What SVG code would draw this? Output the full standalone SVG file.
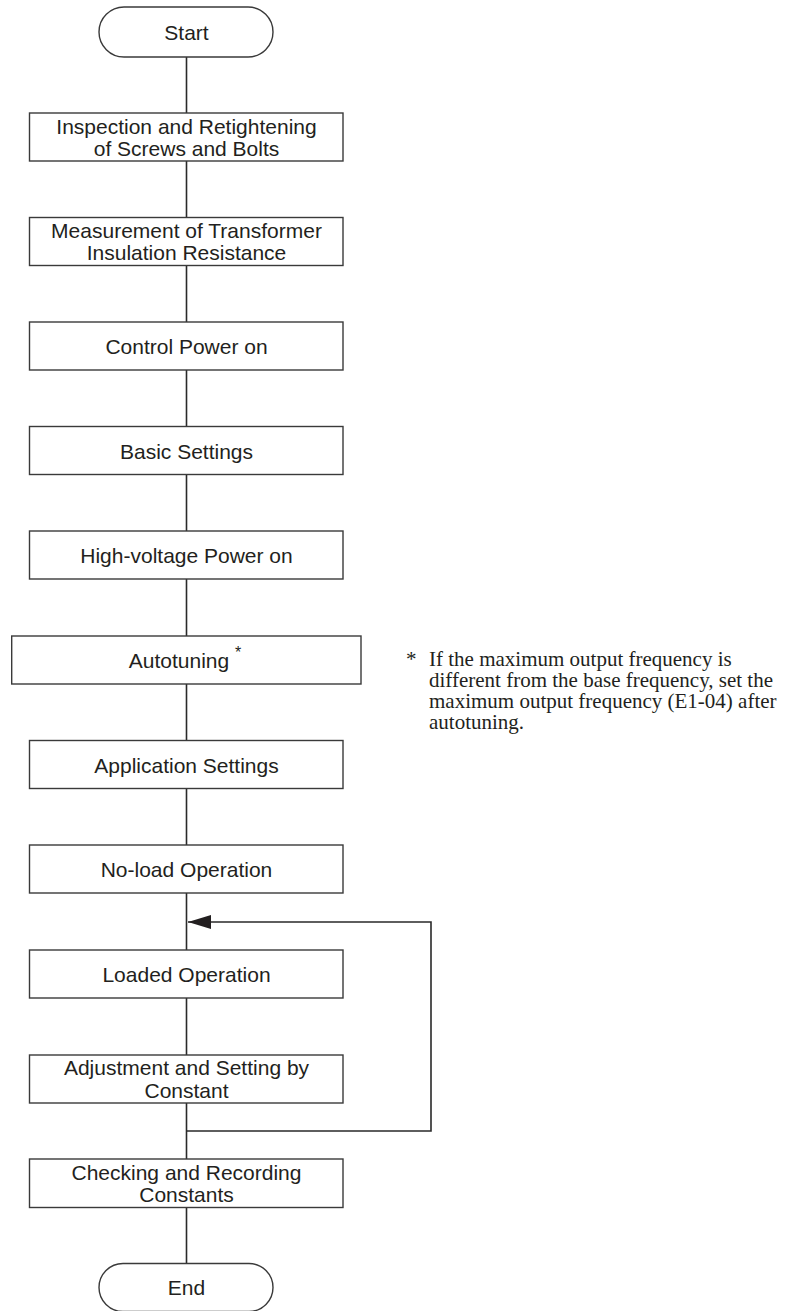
<svg xmlns="http://www.w3.org/2000/svg" width="785" height="1311" viewBox="0 0 785 1311">
<defs>
<style>
.box{fill:#fff;stroke:#3a3a3a;stroke-width:1.4}
.ln{fill:none;stroke:#2a2a2a;stroke-width:1.6}
.t{font-family:"Liberation Sans",Arial,sans-serif;font-size:21px;fill:#231f20;text-anchor:middle}
.n{font-family:"Liberation Serif","Times New Roman",serif;font-size:21px;fill:#231f20}
</style>
<marker id="ah" markerWidth="24" markerHeight="14" refX="23" refY="7" orient="auto" markerUnits="userSpaceOnUse">
<path d="M0,0 L23,7 L0,14 Z" fill="#231f20"/>
</marker>
</defs>
<rect width="785" height="1311" fill="#fff"/>
<g id="connectors">
<line class="ln" x1="186.5" y1="57" x2="186.5" y2="1263"/>
<polyline class="ln" points="186.5,1131 431,1131 431,922 188,922" marker-end="url(#ah)"/>
</g>
<g id="start"><rect class="box" x="99" y="7" width="174" height="50" rx="25"/><text class="t" x="186.5" y="40">Start</text></g>
<g id="n1"><rect class="box" x="29.5" y="113" width="313.5" height="48"/><text class="t" x="186.5" y="133.5">Inspection and Retightening</text><text class="t" x="186.5" y="156">of Screws and Bolts</text></g>
<g id="n2"><rect class="box" x="29.5" y="217.5" width="313.5" height="48"/><text class="t" x="186.5" y="237.5">Measurement of Transformer</text><text class="t" x="186.5" y="260">Insulation Resistance</text></g>
<g id="n3"><rect class="box" x="29.5" y="322" width="313.5" height="48"/><text class="t" x="186.5" y="354">Control Power on</text></g>
<g id="n4"><rect class="box" x="29.5" y="426.5" width="313.5" height="48"/><text class="t" x="186.5" y="458.5">Basic Settings</text></g>
<g id="n5"><rect class="box" x="29.5" y="531" width="313.5" height="48"/><text class="t" x="186.5" y="563">High-voltage Power on</text></g>
<g id="n6"><rect class="box" x="11.7" y="636" width="349.3" height="48"/><text class="t" x="179" y="668">Autotuning</text><text class="t" x="238" y="657.5" style="font-size:16px">*</text></g>
<g id="n7"><rect class="box" x="29.5" y="740.5" width="313.5" height="48"/><text class="t" x="186.5" y="772.5">Application Settings</text></g>
<g id="n8"><rect class="box" x="29.5" y="845" width="313.5" height="48"/><text class="t" x="186.5" y="877">No-load Operation</text></g>
<g id="n9"><rect class="box" x="29.5" y="950" width="313.5" height="48"/><text class="t" x="186.5" y="982">Loaded Operation</text></g>
<g id="n10"><rect class="box" x="29.5" y="1055" width="313.5" height="48"/><text class="t" x="186.5" y="1075">Adjustment and Setting by</text><text class="t" x="186.5" y="1097.5">Constant</text></g>
<g id="n11"><rect class="box" x="29.5" y="1159" width="313.5" height="48.5"/><text class="t" x="186.5" y="1179.5">Checking and Recording</text><text class="t" x="186.5" y="1202">Constants</text></g>
<g id="end"><rect class="box" x="99" y="1263.5" width="174" height="48" rx="24"/><text class="t" x="186.5" y="1295">End</text></g>
<g id="note">
<text class="n" x="406" y="665.7">*</text>
<text class="n" x="429" y="665.7">If the maximum output frequency is</text>
<text class="n" x="429" y="686.7">different from the base frequency, set the</text>
<text class="n" x="429" y="707.7">maximum output frequency (E1-04) after</text>
<text class="n" x="429" y="728.5">autotuning.</text>
</g>
</svg>
